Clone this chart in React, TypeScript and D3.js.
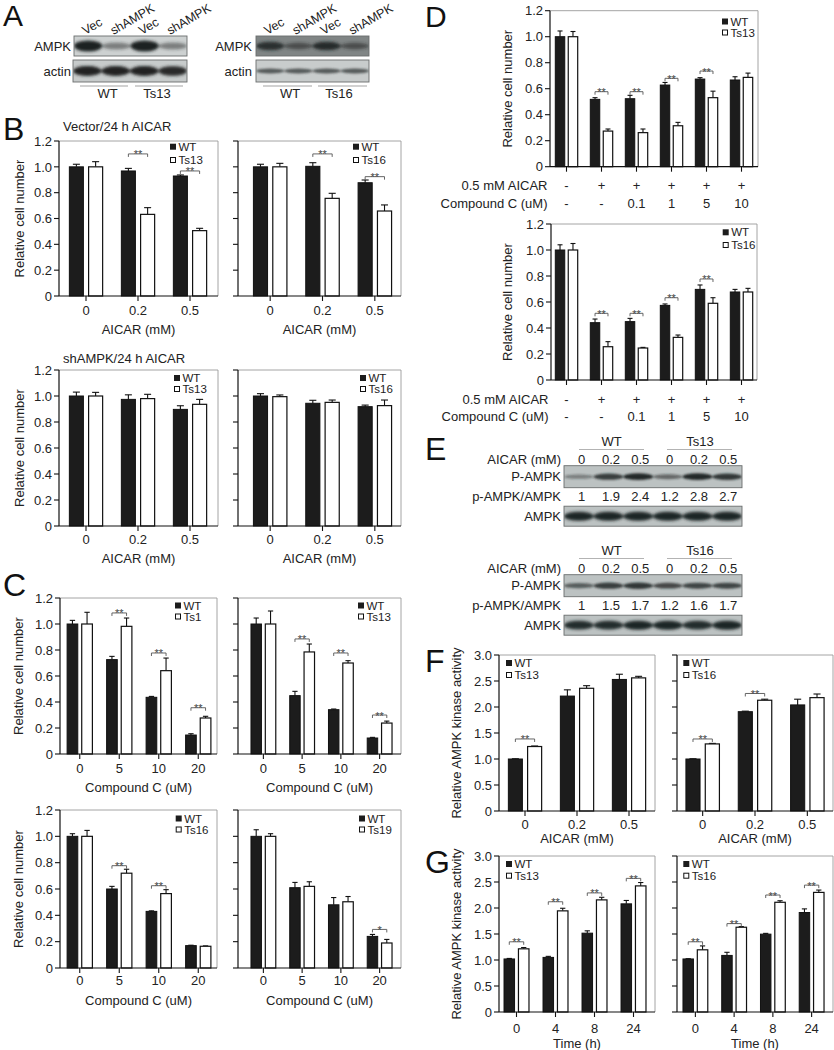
import React from "react";
import * as d3 from "d3";

const FONT = "'Liberation Sans', Arial, Helvetica, sans-serif";

// ---------------- categories ----------------
const aicarDoses = ["0", "0.2", "0.5"];
const compoundC = ["0", "5", "10", "20"];
const dGroups = ["g1", "g2", "g3", "g4", "g5", "g6"];
const dAicarRow = ["-", "+", "+", "+", "+", "+"];
const dCompoundRow = ["-", "-", "0.1", "1", "5", "10"];
const timeH = ["0", "4", "8", "24"];
const yTicksCell = [0, 0.2, 0.4, 0.6, 0.8, 1.0, 1.2];
const yTicksKinase = [0, 0.5, 1.0, 1.5, 2.0, 2.5, 3.0];

// ---------------- panel B (vector) ----------------
const bVecWT_13 = [1.0, 0.968, 0.929];
const bVecWTErr_13 = [0.02, 0.02, 0.008];
const bVecTs13 = [1.0, 0.632, 0.506];
const bVecTs13Err = [0.04, 0.052, 0.018];
const bVecSig_13: [number, number, string][] = [[1, 1.1, "**"], [2, 0.968, "**"]];
const bVecWT_16 = [1.0, 1.004, 0.877];
const bVecWTErr_16 = [0.02, 0.028, 0.021];
const bVecTs16 = [1.0, 0.756, 0.658];
const bVecTs16Err = [0.027, 0.039, 0.047];
const bVecSig_16: [number, number, string][] = [[1, 1.1, "**"], [2, 0.924, "**"]];

// ---------------- panel B (shAMPK) ----------------
const bShWT_13 = [1.0, 0.974, 0.897];
const bShWTErr_13 = [0.03, 0.035, 0.028];
const bShTs13 = [1.0, 0.98, 0.936];
const bShTs13Err = [0.028, 0.033, 0.038];
const bShWT_16 = [1.0, 0.944, 0.918];
const bShWTErr_16 = [0.018, 0.023, 0.012];
const bShTs16 = [0.995, 0.951, 0.926];
const bShTs16Err = [0.013, 0.018, 0.043];

// ---------------- panel C ----------------
const cWT_1 = [1.0, 0.726, 0.436, 0.146];
const cWTErr_1 = [0.028, 0.025, 0.007, 0.01];
const cTs1 = [1.0, 0.982, 0.641, 0.277];
const cTs1Err = [0.09, 0.064, 0.097, 0.013];
const cSig_1: [number, number, string][] = [[1, 1.085, "**"], [2, 0.777, "**"], [3, 0.356, "**"]];
const cWT_13 = [1.0, 0.449, 0.341, 0.123];
const cWTErr_13 = [0.046, 0.033, 0.005, 0.005];
const cTs13 = [1.0, 0.785, 0.7, 0.238];
const cTs13Err = [0.1, 0.061, 0.018, 0.015];
const cSig_13: [number, number, string][] = [[1, 0.885, "**"], [2, 0.777, "**"], [3, 0.3, "**"]];
const cWT_16 = [1.0, 0.6, 0.43, 0.17];
const cWTErr_16 = [0.02, 0.02, 0.004, 0.003];
const cTs16 = [1.0, 0.72, 0.565, 0.165];
const cTs16Err = [0.045, 0.03, 0.03, 0.003];
const cSig_16: [number, number, string][] = [[1, 0.777, "**"], [2, 0.625, "**"]];
const cWT_19 = [1.0, 0.61, 0.48, 0.24];
const cWTErr_19 = [0.05, 0.04, 0.055, 0.015];
const cTs19 = [1.0, 0.62, 0.503, 0.19];
const cTs19Err = [0.02, 0.035, 0.04, 0.027];
const cSig_19: [number, number, string][] = [[3, 0.293, "*"]];

// ---------------- panel D ----------------
const dWT_13 = [1.0, 0.518, 0.523, 0.628, 0.674, 0.667];
const dWTErr_13 = [0.044, 0.013, 0.026, 0.02, 0.011, 0.025];
const dTs13 = [1.0, 0.274, 0.262, 0.315, 0.531, 0.687];
const dTs13Err = [0.04, 0.016, 0.028, 0.026, 0.05, 0.033];
const dSig_13: [number, number, string][] = [[1, 0.577, "**"], [2, 0.577, "**"], [3, 0.68, "**"], [4, 0.736, "**"]];
const dWT_16 = [1.0, 0.441, 0.449, 0.574, 0.697, 0.677];
const dWTErr_16 = [0.04, 0.028, 0.025, 0.011, 0.034, 0.02];
const dTs16 = [1.0, 0.256, 0.246, 0.328, 0.59, 0.677];
const dTs16Err = [0.05, 0.039, 0.005, 0.018, 0.043, 0.028];
const dSig_16: [number, number, string][] = [[1, 0.513, "**"], [2, 0.513, "**"], [3, 0.633, "**"], [4, 0.777, "**"]];

// ---------------- panel E (blots) ----------------
const eLanes = ["0", "0.2", "0.5", "0", "0.2", "0.5"];
const eRatio13 = ["1", "1.9", "2.4", "1.2", "2.8", "2.7"];
const eRatio16 = ["1", "1.5", "1.7", "1.2", "1.6", "1.7"];
const ePAMPK13 = [0.3, 0.8, 0.95, 0.45, 0.95, 0.85];
const eAMPK13 = [1, 1, 1, 1, 1, 1];
const ePAMPK16 = [0.55, 0.8, 0.85, 0.7, 0.75, 0.75];
const eAMPK16 = [0.95, 0.95, 1, 1, 0.95, 1];

// ---------------- panel A (blots) ----------------
const aLaneLabels = ["Vec", "shAMPK", "Vec", "shAMPK"];
const aAMPK13 = [1, 0.35, 1, 0.35];
const aActin13 = [1, 1, 1, 0.95];
const aAMPK16 = [0.85, 0.45, 0.9, 0.45];
const aActin16 = [0.65, 0.65, 0.65, 0.65];

// ---------------- panel F ----------------
const fWT_13 = [1.0, 2.21, 2.53];
const fWTErr_13 = [0.005, 0.12, 0.1];
const fTs13 = [1.24, 2.36, 2.56];
const fTs13Err = [0.01, 0.05, 0.03];
const fSig_13: [number, number, string][] = [[0, 1.385, "**"]];
const fWT_16 = [1.0, 1.91, 2.04];
const fWTErr_16 = [0.005, 0.01, 0.11];
const fTs16 = [1.29, 2.13, 2.18];
const fTs16Err = [0.01, 0.02, 0.07];
const fSig_16: [number, number, string][] = [[0, 1.385, "**"], [1, 2.26, "**"]];

// ---------------- panel G ----------------
const gWT_13 = [1.02, 1.05, 1.516, 2.08];
const gWTErr_13 = [0.01, 0.02, 0.045, 0.065];
const gTs13 = [1.215, 1.945, 2.156, 2.425];
const gTs13Err = [0.025, 0.05, 0.05, 0.065];
const gSig_13: [number, number, string][] = [[0, 1.35, "**"], [1, 2.12, "**"], [2, 2.29, "**"], [3, 2.57, "**"]];
const gWT_16 = [1.02, 1.088, 1.497, 1.913];
const gWTErr_16 = [0.005, 0.06, 0.015, 0.07];
const gTs16 = [1.196, 1.63, 2.11, 2.3];
const gTs16Err = [0.075, 0.012, 0.03, 0.045];
const gSig_16: [number, number, string][] = [[0, 1.35, "**"], [1, 1.7, "**"], [2, 2.25, "**"], [3, 2.44, "**"]];

// ---------------- chart layout ----------------
interface Chart {
  key: string;
  x0: number; x1: number; band: [number, number];
  yTop: number; yZero: number; yTicks: number[];
  cats: string[];
  wt: number[]; wtErr: number[]; ts: number[]; tsErr: number[];
  tsName: string;
  yLabels: boolean;
  yTitle?: string; yTitleX?: number;
  xTitle?: string; tickLabelY?: number; xTitleY?: number;
  legX: number; legY: number; legGap: number;
  sig: [number, number, string][];
  rows?: { label: string; values: string[]; y: number }[];
}

const CELL = "Relative cell number";
const KIN = "Relative AMPK kinase activity";

const charts: Chart[] = [
  { key: "bTL", x0: 59, x1: 218, band: [60, 216], yTop: 141, yZero: 296, yTicks: yTicksCell, cats: aicarDoses,
    wt: bVecWT_13, wtErr: bVecWTErr_13, ts: bVecTs13, tsErr: bVecTs13Err, tsName: "Ts13", yLabels: true,
    yTitle: CELL, yTitleX: 19, xTitle: "AICAR (mM)", tickLabelY: 310, xTitleY: 329,
    legX: 170, legY: 146.7, legGap: 13.3, sig: bVecSig_13 },
  { key: "bTR", x0: 238, x1: 401, band: [244, 401], yTop: 141, yZero: 296, yTicks: yTicksCell, cats: aicarDoses,
    wt: bVecWT_16, wtErr: bVecWTErr_16, ts: bVecTs16, tsErr: bVecTs16Err, tsName: "Ts16", yLabels: false,
    xTitle: "AICAR (mM)", tickLabelY: 310, xTitleY: 329,
    legX: 353, legY: 146.7, legGap: 13.3, sig: bVecSig_16 },
  { key: "bBL", x0: 59, x1: 218, band: [60, 216], yTop: 370, yZero: 526, yTicks: yTicksCell, cats: aicarDoses,
    wt: bShWT_13, wtErr: bShWTErr_13, ts: bShTs13, tsErr: bShTs13Err, tsName: "Ts13", yLabels: true,
    yTitle: CELL, yTitleX: 19, xTitle: "AICAR (mM)", tickLabelY: 539, xTitleY: 558,
    legX: 174, legY: 378, legGap: 11, sig: [] },
  { key: "bBR", x0: 238, x1: 401, band: [244, 401], yTop: 370, yZero: 526, yTicks: yTicksCell, cats: aicarDoses,
    wt: bShWT_16, wtErr: bShWTErr_16, ts: bShTs16, tsErr: bShTs16Err, tsName: "Ts16", yLabels: false,
    xTitle: "AICAR (mM)", tickLabelY: 539, xTitleY: 558,
    legX: 360, legY: 378, legGap: 11, sig: [] },
  { key: "cTL", x0: 60, x1: 217, band: [60, 218], yTop: 598, yZero: 754, yTicks: yTicksCell, cats: compoundC,
    wt: cWT_1, wtErr: cWTErr_1, ts: cTs1, tsErr: cTs1Err, tsName: "Ts1", yLabels: true,
    yTitle: CELL, yTitleX: 18, xTitle: "Compound C (uM)", tickLabelY: 768, xTitleY: 787,
    legX: 175, legY: 605.5, legGap: 11, sig: cSig_1 },
  { key: "cTR", x0: 238, x1: 401, band: [244, 399], yTop: 598, yZero: 754, yTicks: yTicksCell, cats: compoundC,
    wt: cWT_13, wtErr: cWTErr_13, ts: cTs13, tsErr: cTs13Err, tsName: "Ts13", yLabels: false,
    xTitle: "Compound C (uM)", tickLabelY: 768, xTitleY: 787,
    legX: 358, legY: 605.5, legGap: 11, sig: cSig_13 },
  { key: "cBL", x0: 60, x1: 217, band: [60, 218], yTop: 810, yZero: 968, yTicks: yTicksCell, cats: compoundC,
    wt: cWT_16, wtErr: cWTErr_16, ts: cTs16, tsErr: cTs16Err, tsName: "Ts16", yLabels: true,
    yTitle: CELL, yTitleX: 18, xTitle: "Compound C (uM)", tickLabelY: 980, xTitleY: 1000,
    legX: 175.7, legY: 818.5, legGap: 11, sig: cSig_16 },
  { key: "cBR", x0: 238, x1: 401, band: [244, 399], yTop: 810, yZero: 968, yTicks: yTicksCell, cats: compoundC,
    wt: cWT_19, wtErr: cWTErr_19, ts: cTs19, tsErr: cTs19Err, tsName: "Ts19", yLabels: false,
    xTitle: "Compound C (uM)", tickLabelY: 980, xTitleY: 1000,
    legX: 359, legY: 818.5, legGap: 11, sig: cSig_19 },
  { key: "dT", x0: 550, x1: 758, band: [549, 759], yTop: 10.7, yZero: 166.7, yTicks: yTicksCell, cats: dGroups,
    wt: dWT_13, wtErr: dWTErr_13, ts: dTs13, tsErr: dTs13Err, tsName: "Ts13", yLabels: true,
    yTitle: CELL, yTitleX: 507,
    legX: 722, legY: 21.5, legGap: 11, sig: dSig_13,
    rows: [{ label: "0.5 mM AICAR", values: dAicarRow, y: 185.7 }, { label: "Compound C (uM)", values: dCompoundRow, y: 203.3 }] },
  { key: "dB", x0: 551, x1: 757, band: [549, 759], yTop: 224, yZero: 380, yTicks: yTicksCell, cats: dGroups,
    wt: dWT_16, wtErr: dWTErr_16, ts: dTs16, tsErr: dTs16Err, tsName: "Ts16", yLabels: true,
    yTitle: CELL, yTitleX: 507,
    legX: 722.7, legY: 232.3, legGap: 12.7, sig: dSig_16,
    rows: [{ label: "0.5 mM AICAR", values: dAicarRow, y: 399.3 }, { label: "Compound C (uM)", values: dCompoundRow, y: 416.7 }] },
  { key: "fL", x0: 499, x1: 655, band: [499, 655], yTop: 655, yZero: 811, yTicks: yTicksKinase, cats: aicarDoses,
    wt: fWT_13, wtErr: fWTErr_13, ts: fTs13, tsErr: fTs13Err, tsName: "Ts13", yLabels: true,
    yTitle: KIN, yTitleX: 456, xTitle: "AICAR (mM)", tickLabelY: 824, xTitleY: 838,
    legX: 506, legY: 663, legGap: 12, sig: fSig_13 },
  { key: "fR", x0: 677, x1: 833, band: [676.5, 833.5], yTop: 655, yZero: 811, yTicks: yTicksKinase, cats: aicarDoses,
    wt: fWT_16, wtErr: fWTErr_16, ts: fTs16, tsErr: fTs16Err, tsName: "Ts16", yLabels: false,
    xTitle: "AICAR (mM)", tickLabelY: 824, xTitleY: 838,
    legX: 683.3, legY: 663, legGap: 12, sig: fSig_16 },
  { key: "gL", x0: 499, x1: 655, band: [497, 653], yTop: 856, yZero: 1012, yTicks: yTicksKinase, cats: timeH,
    wt: gWT_13, wtErr: gWTErr_13, ts: gTs13, tsErr: gTs13Err, tsName: "Ts13", yLabels: true,
    yTitle: KIN, yTitleX: 456, xTitle: "Time (h)", tickLabelY: 1028, xTitleY: 1043,
    legX: 506, legY: 864, legGap: 11.7, sig: gSig_13 },
  { key: "gR", x0: 677, x1: 833, band: [676, 831], yTop: 856, yZero: 1012, yTicks: yTicksKinase, cats: timeH,
    wt: gWT_16, wtErr: gWTErr_16, ts: gTs16, tsErr: gTs16Err, tsName: "Ts16", yLabels: false,
    xTitle: "Time (h)", tickLabelY: 1028, xTitleY: 1043,
    legX: 683.3, legY: 864, legGap: 11.7, sig: gSig_16 },
];

const fmtTick = (d: number) => (d === 0 ? "0" : d3.format(".1f")(d));

function BarChart({ c }: { c: Chart }) {
  const yMax = c.yTicks[c.yTicks.length - 1];
  const x = d3.scaleBand<string>().domain(c.cats).range(c.band).padding(0);
  const y = d3.scaleLinear().domain([0, yMax]).range([c.yZero, c.yTop]);
  const step = x.step();
  const bw = step * 0.27;
  const gap = step * 0.05;
  const cx = (i: number) => (x(c.cats[i]) as number) + step / 2;
  const wtX = (i: number) => cx(i) - gap - bw;
  const tsX = (i: number) => cx(i) + gap;
  const cap = Math.max(5, bw * 0.5);
  const errBar = (xc: number, v: number, e: number, k: string) => (
    <g key={k} stroke="#111" strokeWidth={1.1}>
      <line x1={xc} x2={xc} y1={y(v)} y2={y(v + e)} />
      <line x1={xc - cap / 2} x2={xc + cap / 2} y1={y(v + e)} y2={y(v + e)} />
    </g>
  );
  const midY = (c.yTop + c.yZero) / 2;
  return (
    <g>
      {/* frame */}
      <line x1={c.x0} x2={c.x1} y1={c.yTop} y2={c.yTop} stroke="#9a9a9a" strokeWidth={0.9} />
      <line x1={c.x1} x2={c.x1} y1={c.yTop} y2={c.yZero} stroke="#9a9a9a" strokeWidth={0.9} />
      {/* bars */}
      {c.cats.map((_, i) => (
        <g key={"b" + i}>
          {errBar(wtX(i) + bw / 2, c.wt[i], c.wtErr[i], "ew" + i)}
          {errBar(tsX(i) + bw / 2, c.ts[i], c.tsErr[i], "et" + i)}
          <rect x={wtX(i)} y={y(c.wt[i])} width={bw} height={c.yZero - y(c.wt[i])} fill="#1c1c1c" stroke="#111" strokeWidth={1} />
          <rect x={tsX(i)} y={y(c.ts[i])} width={bw} height={c.yZero - y(c.ts[i])} fill="#fff" stroke="#111" strokeWidth={1.2} />
        </g>
      ))}
      {/* axes */}
      <line x1={c.x0} x2={c.x0} y1={c.yTop} y2={c.yZero} stroke="#111" strokeWidth={1.2} />
      <line x1={c.x0} x2={c.x1} y1={c.yZero} y2={c.yZero} stroke="#111" strokeWidth={1.2} />
      {c.yTicks.map((t) => (
        <g key={"yt" + t}>
          <line x1={c.x0 - 5} x2={c.x0} y1={y(t)} y2={y(t)} stroke="#111" strokeWidth={1.1} />
          {c.yLabels && (
            <text x={c.x0 - 7} y={y(t)} dy="0.36em" textAnchor="end" fontSize={13} fill="#222">{fmtTick(t)}</text>
          )}
        </g>
      ))}
      {c.cats.map((cat, i) => (
        <g key={"xt" + i}>
          <line x1={cx(i)} x2={cx(i)} y1={c.yZero} y2={c.yZero + 5} stroke="#111" strokeWidth={1.1} />
          {c.tickLabelY !== undefined && (
            <text x={cx(i)} y={c.tickLabelY} dy="0.36em" textAnchor="middle" fontSize={13} fill="#222">{cat}</text>
          )}
        </g>
      ))}
      {c.xTitle && (
        <text x={(c.x0 + c.x1) / 2} y={c.xTitleY} dy="0.36em" textAnchor="middle" fontSize={13} fill="#222">{c.xTitle}</text>
      )}
      {c.rows && c.rows.map((r) => (
        <g key={r.label}>
          <text x={c.x0 - 2.5} y={r.y} dy="0.36em" textAnchor="end" fontSize={13} fill="#222">{r.label}</text>
          {r.values.map((v, i) => (
            <text key={i} x={cx(i)} y={r.y} dy="0.36em" textAnchor="middle" fontSize={13} fill="#222">{v}</text>
          ))}
        </g>
      ))}
      {c.yTitle && (
        <text transform={`translate(${c.yTitleX},${midY}) rotate(-90)`} dy="0.36em" textAnchor="middle" fontSize={13} fill="#222">{c.yTitle}</text>
      )}
      {/* significance */}
      {c.sig.map(([g, lvl, mark]) => {
        const a = wtX(g) + bw / 2;
        const b = tsX(g) + bw / 2;
        const yy = y(lvl);
        return (
          <g key={"s" + g}>
            <path d={`M${a},${yy + 3}V${yy}H${b}V${yy + 3}`} fill="none" stroke="#555" strokeWidth={0.9} />
            <text x={(a + b) / 2} y={yy + 4.5} textAnchor="middle" fontSize={11} fill="#444">{mark}</text>
          </g>
        );
      })}
      {/* legend */}
      <rect x={c.legX} y={c.legY - 3} width={6} height={6} fill="#1c1c1c" />
      <text x={c.legX + 8.5} y={c.legY} dy="0.36em" fontSize={11.5} fill="#222">WT</text>
      <rect x={c.legX + 0.5} y={c.legY + c.legGap - 2.5} width={5} height={5} fill="#fff" stroke="#111" strokeWidth={1} />
      <text x={c.legX + 8.5} y={c.legY + c.legGap} dy="0.36em" fontSize={11.5} fill="#222">{c.tsName}</text>
    </g>
  );
}

function Blot({ x, y, w, h, bg, lanes, bandH, color, filter }: {
  x: number; y: number; w: number; h: number; bg: string; lanes: number[]; bandH: number; color: string; filter: string;
}) {
  const xs = d3.scaleBand<number>().domain(d3.range(lanes.length)).range([x, x + w]);
  const clipId = `clip-${Math.round(x)}-${Math.round(y)}`;
  return (
    <g>
      <defs>
        <clipPath id={clipId}><rect x={x} y={y} width={w} height={h} /></clipPath>
      </defs>
      <rect x={x} y={y} width={w} height={h} fill={bg} />
      <g clipPath={`url(#${clipId})`}>
        <g filter={`url(#${filter})`}>
          {lanes.map((v, i) => (
            <ellipse key={i} cx={(xs(i) as number) + xs.bandwidth() / 2} cy={y + h / 2}
              rx={xs.bandwidth() * 0.5} ry={(bandH * (0.45 + 0.55 * v)) / 2}
              fill={color} opacity={0.2 + 0.8 * v} />
          ))}
        </g>
      </g>
      <rect x={x} y={y} width={w} height={h} fill="none" stroke="#6a6e6e" strokeWidth={0.9} />
    </g>
  );
}

function PanelA() {
  const left = d3.scaleBand<number>().domain(d3.range(4)).range([74, 187]);
  const right = d3.scaleBand<number>().domain(d3.range(4)).range([256, 369]);
  const laneLabels = (sc: d3.ScaleBand<number>) =>
    aLaneLabels.map((l, i) => {
      const lx = (sc(i) as number) + sc.bandwidth() / 2 - 3;
      return (
        <text key={i} x={lx} y={35} transform={`rotate(-30,${lx},35)`} fontSize={12.5} fill="#222">{l}</text>
      );
    });
  return (
    <g>
      <text x={3} y={26} fontSize={30} fill="#111">A</text>
      {laneLabels(left)}
      {laneLabels(right)}
      <text x={71} y={46} dy="0.36em" textAnchor="end" fontSize={13} fill="#222">AMPK</text>
      <text x={71} y={71} dy="0.36em" textAnchor="end" fontSize={13} fill="#222">actin</text>
      <Blot x={74} y={36} w={113} h={20} bg="#cdd1d1" lanes={aAMPK13} bandH={11} color="#1e2222" filter="blur15" />
      <Blot x={73} y={60} w={114} h={22} bg="#c7cbcb" lanes={aActin13} bandH={10} color="#202424" filter="blur15" />
      <text x={252} y={46} dy="0.36em" textAnchor="end" fontSize={13} fill="#222">AMPK</text>
      <text x={252} y={71} dy="0.36em" textAnchor="end" fontSize={13} fill="#222">actin</text>
      <Blot x={256} y={36} w={113} h={20} bg="#808585" lanes={aAMPK16} bandH={9} color="#1e2222" filter="blur15" />
      <Blot x={256} y={60} w={113} h={22} bg="#c8cccc" lanes={aActin16} bandH={6} color="#2a2e2e" filter="blur1" />
      <g stroke="#999" strokeWidth={0.9}>
        <line x1={80} x2={128} y1={86} y2={86} />
        <line x1={135} x2={183} y1={86} y2={86} />
        <line x1={263} x2={312} y1={86} y2={86} />
        <line x1={318} x2={367} y1={86} y2={86} />
      </g>
      <text x={107.5} y={93} dy="0.36em" textAnchor="middle" fontSize={13} fill="#222">WT</text>
      <text x={157} y={93} dy="0.36em" textAnchor="middle" fontSize={13} fill="#222">Ts13</text>
      <text x={290} y={93} dy="0.36em" textAnchor="middle" fontSize={13} fill="#222">WT</text>
      <text x={339} y={93} dy="0.36em" textAnchor="middle" fontSize={13} fill="#222">Ts16</text>
    </g>
  );
}

function EBlock({ top, tsName, ratios, pampk, ampk }: {
  top: number; tsName: string; ratios: string[]; pampk: number[]; ampk: number[];
}) {
  const xs = d3.scaleBand<number>().domain(d3.range(6)).range([567, 743]);
  const lc = (i: number) => (xs(i) as number) + xs.bandwidth() / 2;
  const lineY = top + 7.8;
  const aicY = top + 17.5;
  const pTop = top + 24;
  const ratioY = top + 55;
  const aTop = top + 64.5;
  return (
    <g>
      <text x={611.7} y={top} dy="0.36em" textAnchor="middle" fontSize={13} fill="#222">WT</text>
      <text x={700} y={top} dy="0.36em" textAnchor="middle" fontSize={13} fill="#222">{tsName}</text>
      <line x1={579} x2={644} y1={lineY} y2={lineY} stroke="#aaa" strokeWidth={0.9} />
      <line x1={667} x2={732} y1={lineY} y2={lineY} stroke="#aaa" strokeWidth={0.9} />
      <text x={561} y={aicY} dy="0.36em" textAnchor="end" fontSize={13} fill="#222">AICAR (mM)</text>
      {eLanes.map((l, i) => (
        <text key={"l" + i} x={lc(i)} y={aicY} dy="0.36em" textAnchor="middle" fontSize={13} fill="#222">{l}</text>
      ))}
      <text x={561} y={pTop + 11} dy="0.36em" textAnchor="end" fontSize={13} fill="#222">P-AMPK</text>
      <Blot x={564} y={pTop} w={178} h={22} bg="#bcc2c2" lanes={pampk} bandH={7} color="#1f2424" filter="blur1" />
      <text x={561} y={ratioY} dy="0.36em" textAnchor="end" fontSize={13} fill="#222">p-AMPK/AMPK</text>
      {ratios.map((r, i) => (
        <text key={"r" + i} x={lc(i)} y={ratioY} dy="0.36em" textAnchor="middle" fontSize={13} fill="#222">{r}</text>
      ))}
      <text x={561} y={aTop + 10} dy="0.36em" textAnchor="end" fontSize={13} fill="#222">AMPK</text>
      <Blot x={564} y={aTop} w={178} h={20} bg="#bcc2c2" lanes={ampk} bandH={9} color="#1f2626" filter="blur15" />
    </g>
  );
}

export default function App() {
  return (
    <svg width={834} height={1050} style={{ position: "absolute", left: 0, top: 0, background: "#fff" }}
      fontFamily={FONT}>
      <defs>
        <filter id="blur1" x="-30%" y="-80%" width="160%" height="260%">
          <feGaussianBlur stdDeviation="1" />
        </filter>
        <filter id="blur15" x="-30%" y="-80%" width="160%" height="260%">
          <feGaussianBlur stdDeviation="1.5" />
        </filter>
      </defs>
      <rect x={0} y={0} width={834} height={1050} fill="#fff" />
      <PanelA />
      <text x={3} y={140} fontSize={32} fill="#111">B</text>
      <text x={63} y={126.7} dy="0.36em" fontSize={13} fill="#222">Vector/24 h AICAR</text>
      <text x={63} y={358} dy="0.36em" fontSize={13} fill="#222">shAMPK/24 h AICAR</text>
      <text x={3} y={596} fontSize={32} fill="#111">C</text>
      <text x={425} y={27} fontSize={30} fill="#111">D</text>
      <text x={425} y={460} fontSize={32} fill="#111">E</text>
      <text x={425} y={672} fontSize={32} fill="#111">F</text>
      <text x={425} y={873} fontSize={32} fill="#111">G</text>
      {charts.map((c) => <BarChart key={c.key} c={c} />)}
      <EBlock top={441.7} tsName="Ts13" ratios={eRatio13} pampk={ePAMPK13} ampk={eAMPK13} />
      <EBlock top={550.7} tsName="Ts16" ratios={eRatio16} pampk={ePAMPK16} ampk={eAMPK16} />
    </svg>
  );
}
